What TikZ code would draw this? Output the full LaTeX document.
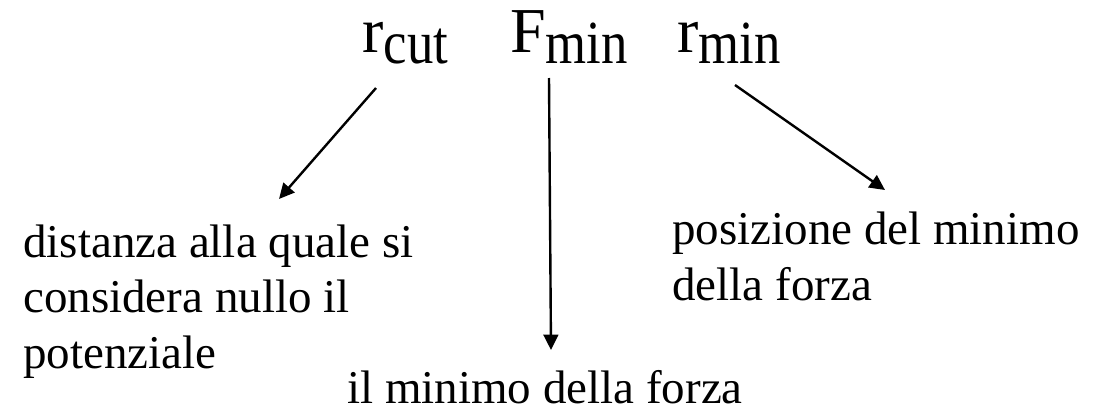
\documentclass[tikz,border=0pt]{standalone}
\usepackage{fontspec}
\setmainfont{Liberation Serif}
\usetikzlibrary{arrows.meta}
\newcommand\subtxt[1]{\raisebox{-8.25pt}{\scalebox{0.86}[1]{\fontsize{46pt}{50pt}\selectfont #1}}}
\begin{document}
\begin{tikzpicture}[x=0.75pt,y=-0.75pt,
  lbl/.style={inner sep=0pt, anchor=base west, font=\fontsize{48pt}{50pt}\selectfont},
  body/.style={inner sep=0pt, anchor=base west, align=left, font=\fontsize{35.25pt}{41.6pt}\selectfont},
  arr/.style={-{Triangle[length=11.5pt,width=11pt]}, line width=1.8pt}]
\useasboundingbox (0,0) rectangle (1107,411);
% top labels
\node[lbl] (rcut) at (362,52) {r\subtxt{cut}};
\node[lbl] (fmin) at (510,52) {F\subtxt{min}};
\node[lbl] (rmin) at (677,52) {r\subtxt{min}};
% descriptions (base anchor = baseline of last line)
\node[body] (tcut) at (23,368) {distanza alla quale si\\considera nullo il\\potenziale};
\node[body] (trmin) at (672,300) {posizione del minimo\\della forza};
\node[body] (tfmin) at (347,403) {il minimo della forza};
% arrow ends
\coordinate (c1) at (376,88);
\coordinate (c2) at (279,199);
\coordinate (f1) at (549,78);
\coordinate (f2) at (551,350);
\coordinate (m1) at (735,85);
\coordinate (m2) at (885,190);
\draw[arr] (c1) -- (c2);
\draw[arr] (f1) -- (f2);
\draw[arr] (m1) -- (m2);
\end{tikzpicture}
\end{document}
